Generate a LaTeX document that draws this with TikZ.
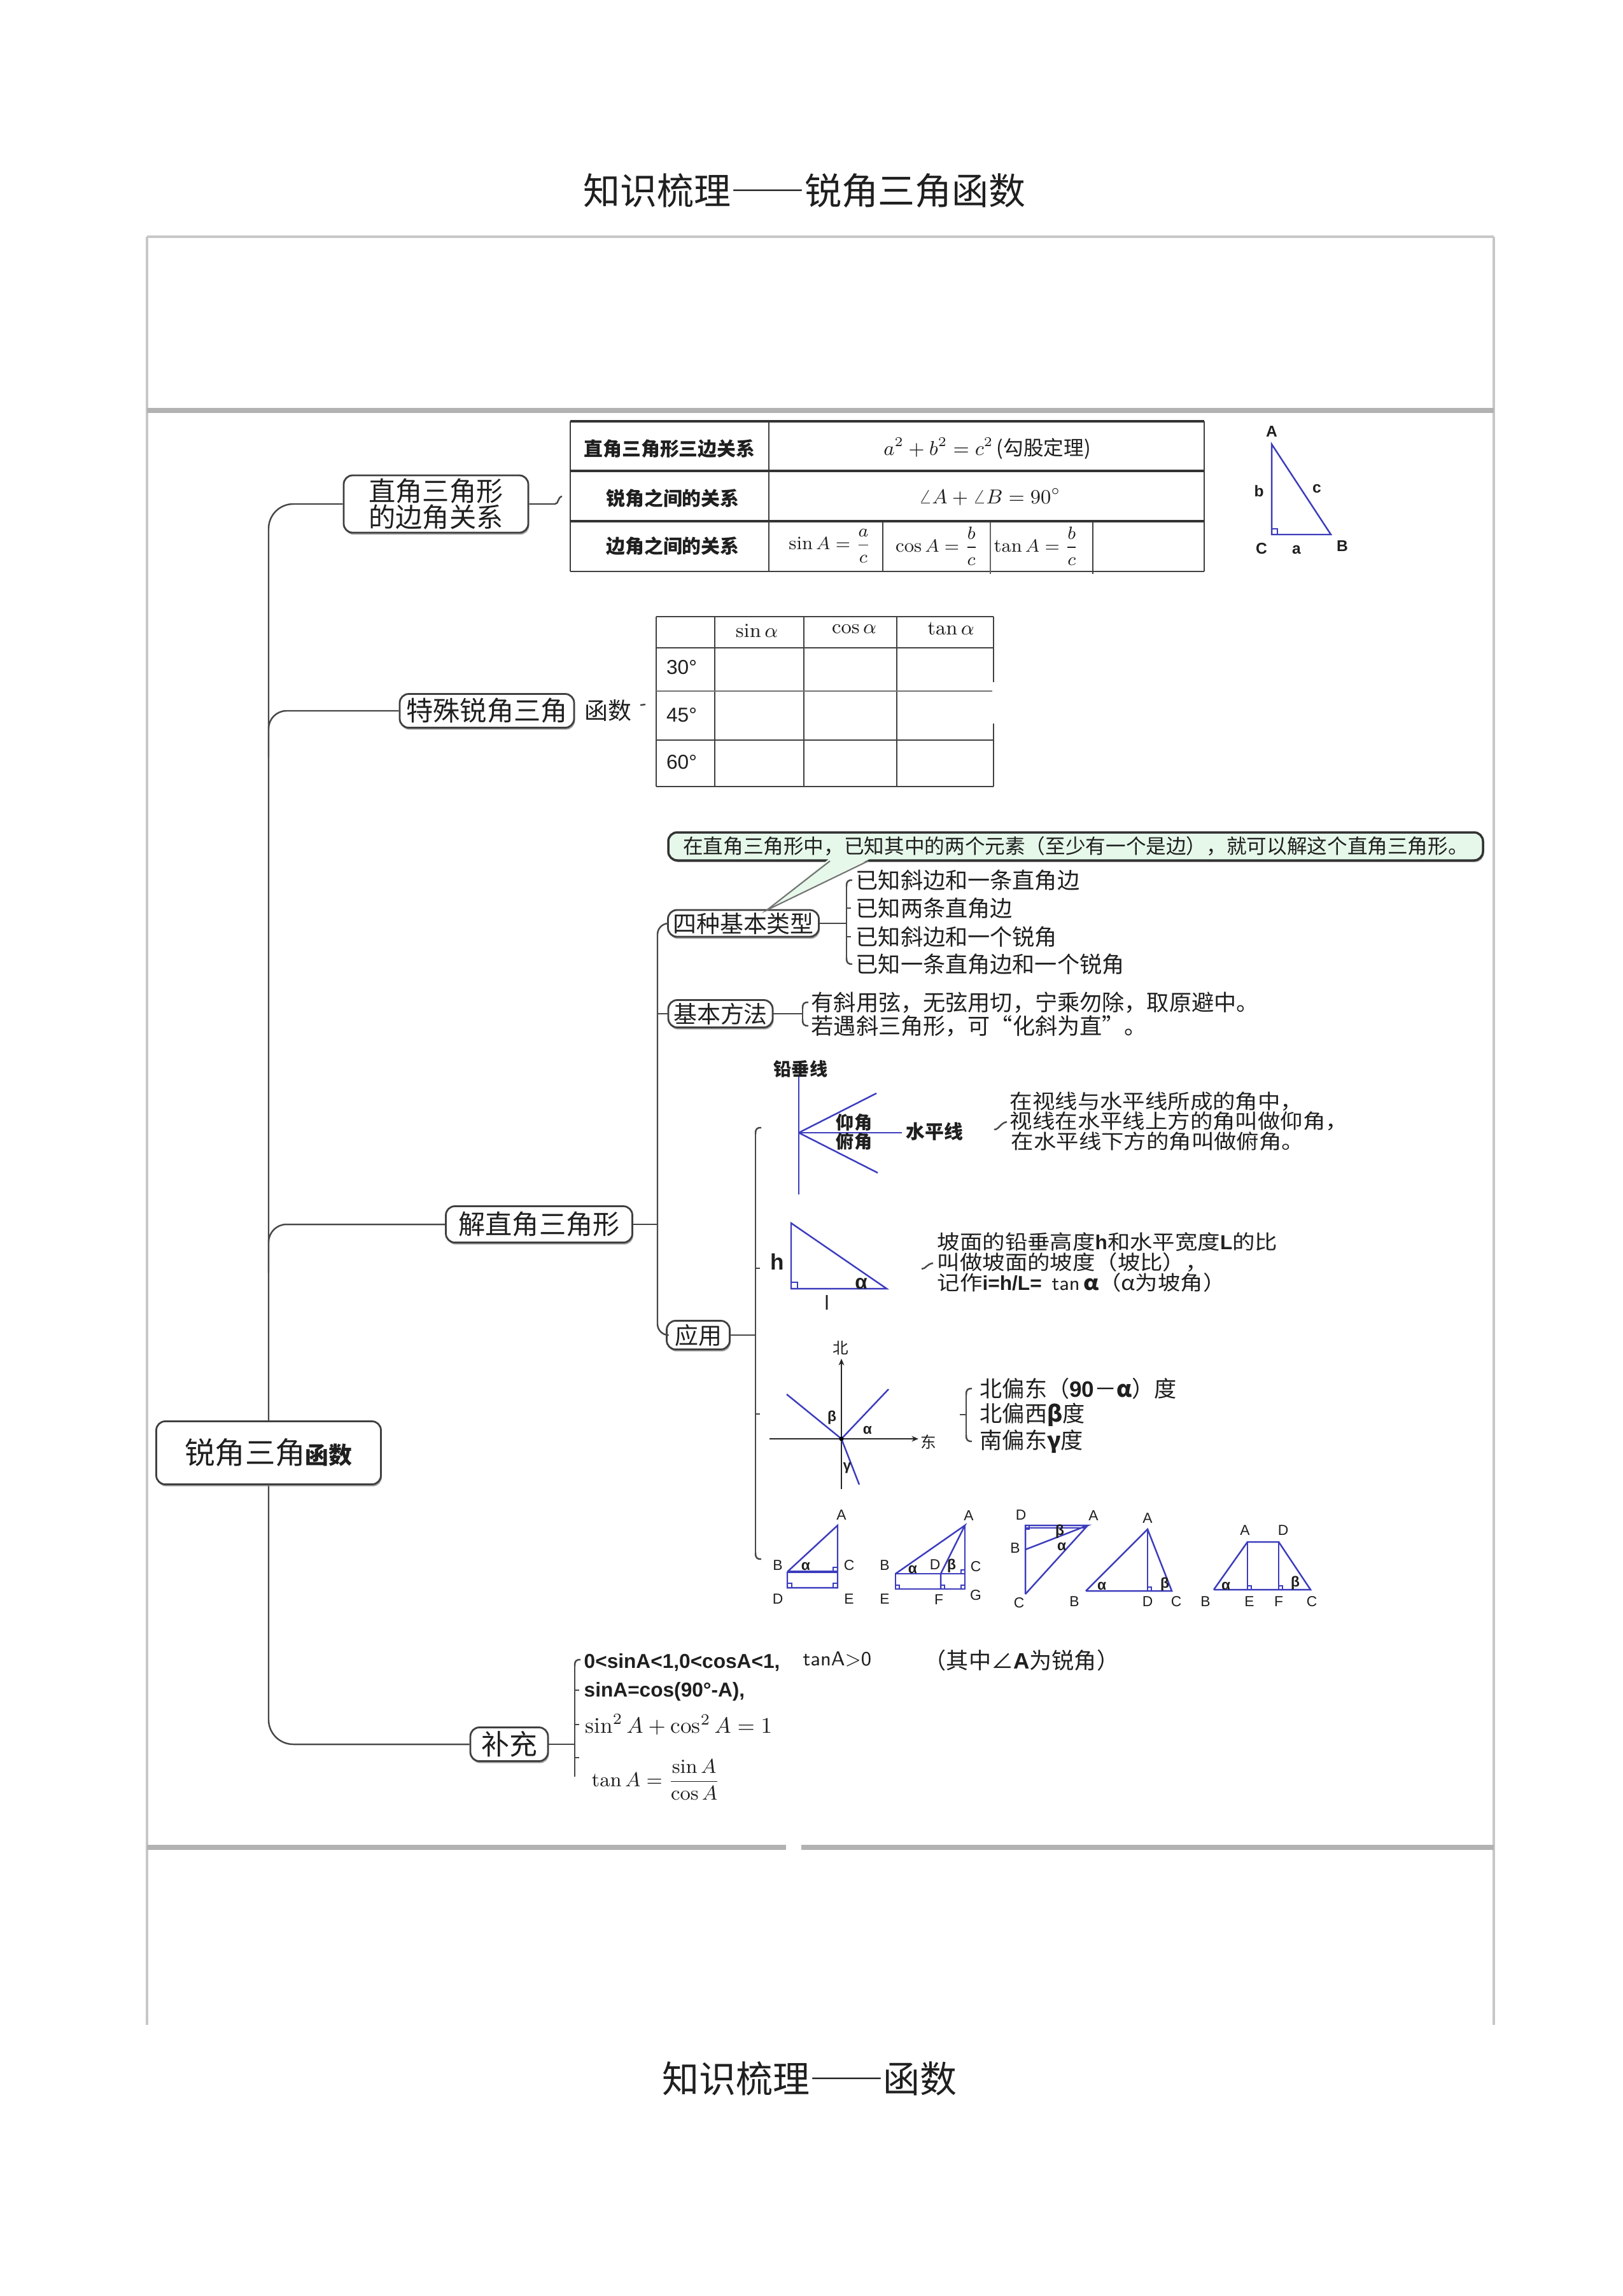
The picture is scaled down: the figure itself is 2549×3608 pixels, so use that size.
\documentclass[tikz,border=0pt]{standalone}
\usepackage{amsmath}
\usepackage{fontspec}
\newfontfamily\cjk{Noto Sans CJK SC}
\newfontfamily\cjkw{Noto Sans CJK SC}[FakeStretch=1.12]
\newfontfamily\lsans{Liberation Sans}
\usetikzlibrary{shadows,arrows.meta}
\definecolor{figblue}{RGB}{60,60,190}
\definecolor{callgreen}{RGB}{230,248,234}
\newcommand\fsz[1]{\fontsize{#1}{#1}\selectfont}
\newcommand\curltop[2]{\draw[conn] (#1,#2+10) .. controls (#1,#2+2) and (#1+2,#2) .. (#1+9,#2);}
\newcommand\curlbot[2]{\draw[conn] (#1,#2-10) .. controls (#1,#2-2) and (#1+2,#2) .. (#1+9,#2);}
\newcommand\mmtick[2]{\draw[conn] (#1,#2) -- (#1+7,#2);}
\newcommand\ramark[3]{\draw[figthin] (#1) ++(#2,0) -- ++(0,#3) -- ++({-1*(#2)},0);}
\newcommand\fwdash{{\addfontfeatures{RawFeature=+fwid}——}}
\tikzset{
 conn/.style={draw=black!72, line width=0.7pt},
 framel/.style={draw=black!22, line width=0.9pt},
 frameh/.style={draw=black!30, line width=2.2pt},
 mm/.style={draw=black!75, line width=0.8pt, rounded corners=4pt, fill=white, inner sep=0pt,
   drop shadow={shadow xshift=0.4pt, shadow yshift=-0.9pt, fill=black!45, opacity=0.8}},
 tthick/.style={draw=black!80, line width=1.1pt},
 tthin/.style={draw=black!75, line width=0.55pt},
 fig/.style={draw=figblue, line width=0.7pt},
 figthin/.style={draw=figblue, line width=0.5pt},
 lbl/.style={font=\lsans\bfseries\fsz{7pt}},
 flbl/.style={font=\lsans\fsz{6.5pt}},
 glbl/.style={font=\cjk\bfseries\fsz{8pt}},
 txt/.style={font=\cjk\fsz{10pt}, anchor=west},
 txtn/.style={font=\cjkw\fsz{9pt}, anchor=west},
 tlab/.style={font=\cjk\bfseries\fsz{8.5pt}},
}
\begin{document}
\begin{tikzpicture}[x=0.1mm,y=-0.1mm, every node/.style={inner sep=0pt, text=black!88}]
\useasboundingbox (0,0) rectangle (2549,3608);
\fill[white] (0,0) rectangle (2549,3608);

% ---------- titles ----------
\node[font=\cjk\fsz{16.5pt}] (title1) at (1264,300) {知识梳理\fwdash 锐角三角函数};
\node[font=\cjk\fsz{16.5pt}] (title2) at (1272,3266) {知识梳理\fwdash 函数};

% ---------- frame ----------
\draw[framel] (231,372) -- (2347,372);
\draw[framel] (231,372) -- (231,3182);
\draw[framel] (2347,372) -- (2347,3182);
\draw[frameh] (231,645) -- (2347,645);
\draw[frameh] (231,2903) -- (1235,2903);
\draw[frameh] (1259,2903) -- (2347,2903);

% ---------- main nodes ----------
\node[mm, minimum width=29mm, minimum height=9mm, align=center,
      font=\cjk\fontsize{12pt}{11.5pt}\selectfont] (n1) at (685,792) {直角三角形\\的边角关系};
\node[mm, minimum width=27.4mm, minimum height=5.3mm, font=\cjk\fsz{12pt}] (n2) at (765,1117) {特殊锐角三角};
\node[font=\cjk\fsz{10.5pt}, anchor=west] (n2b) at (918,1117) {函数};
\node[mm, minimum width=29.3mm, minimum height=5.7mm, font=\cjk\fsz{12pt}] (n3) at (847,1924) {解直角三角形};
\node[mm, minimum width=12.2mm, minimum height=5.3mm, font=\cjk\fsz{12.5pt}] (n4) at (800,2741) {补充};

% trunk and branches
\draw[conn, rounded corners=11pt] (n1.west) -- (422,792) -- (422,2741) -- (n4.west);
\draw[conn, rounded corners=8pt] (n2.west) -- (422,1117) -- (422,1190);
\draw[conn, rounded corners=8pt] (n3.west) -- (422,1924) -- (422,2000);
\node[mm, minimum width=35.3mm, minimum height=9.9mm, font=\cjk] (root) at (422,2283)
  {{\fsz{13.5pt}锐角三角}{\bfseries\fsz{10.5pt}函数}};

% n1 hook to table
\draw[conn] (n1.east) -- (872,792) .. controls (878,792) and (876,781) .. (883,780);
\draw[conn] (1006,1108) -- (1014,1107);

% ---------- table 1 ----------
\draw[tthin] (896,662) -- (896,898);
\draw[tthin] (1892,662) -- (1892,898);
\draw[tthin] (1208,662) -- (1208,898);
\draw[tthin] (896,898) -- (1892,898);
\draw[tthin] (1387,819) -- (1387,898);
\draw[tthin] (1717,819) -- (1717,902);
\draw[draw=black!60, line width=0.4pt] (1556,819) -- (1556,902);
\draw[tthick] (896,662) -- (1892,662);
\draw[tthick] (896,740) -- (1892,740);
\draw[tthick] (896,819) -- (1892,819);
\node[tlab] (t11) at (1052,705) {直角三角形三边关系};
\node[tlab] (t21) at (1057,783) {锐角之间的关系};
\node[tlab] (t31) at (1057,858) {边角之间的关系};
\node[font=\cjk\fsz{9pt}] (t12) at (1551,705) {$a^2+b^2=c^2$\,(勾股定理)};
\node[font=\fsz{9pt}] (t22) at (1555,781) {$\angle A+\angle B=90^\circ$};
\node[font=\fsz{8.5pt}] (t32) at (1304,858) {$\sin A=\dfrac{a}{c}$};
\node[font=\fsz{8.5pt}] (t33) at (1472,858) {$\cos A=\dfrac{b}{c}$};
\node[font=\fsz{8.5pt}] (t34) at (1628,858) {$\tan A=\dfrac{b}{c}$};

% triangle ABC
\coordinate (tA) at (1998,698);
\coordinate (tC) at (1998,840);
\coordinate (tB) at (2091,840);
\draw[fig] (tA) -- (tC) -- (tB) -- cycle;
\ramark{tC}{9}{-9}
\node[lbl] (lA) at (1998,678) {A};
\node[lbl] (lb) at (1978,772) {b};
\node[lbl] (lc) at (2069,768) {c};
\node[lbl] (lC) at (1982,862) {C};
\node[lbl] (la) at (2037,864) {a};
\node[lbl] (lB) at (2109,858) {B};

% ---------- table 2 ----------
\foreach \xx in {1031,1123,1263,1409} {\draw[tthin] (\xx,969) -- (\xx,1236);}
\draw[tthin] (1561,969) -- (1561,1072);
\draw[tthin] (1561,1137) -- (1561,1236);
\foreach \yy in {969,1018,1163,1236} {\draw[tthin] (1031,\yy) -- (1561,\yy);}
\draw[draw=black!55, line width=0.55pt] (1031,1086) -- (1559,1086);
\node[font=\fsz{9pt}] (h1) at (1189,991) {$\sin\alpha$};
\node[font=\fsz{9pt}] (h2) at (1342,989) {$\cos\alpha$};
\node[font=\fsz{9pt}] (h3) at (1494,988) {$\tan\alpha$};
\node[font=\lsans\fsz{9pt}] (r1) at (1071,1049) {30°};
\node[font=\lsans\fsz{9pt}] (r2) at (1071,1124) {45°};
\node[font=\lsans\fsz{9pt}] (r3) at (1071,1198) {60°};

% ---------- solve right triangle subtree ----------
\node[mm, minimum width=23.7mm, minimum height=4.2mm, font=\cjk\fsz{10.5pt}] (n31) at (1168,1451) {四种基本类型};
\node[mm, minimum width=16.4mm, minimum height=4.3mm, font=\cjk\fsz{10.5pt}] (n32) at (1132,1593) {基本方法};
\node[mm, minimum width=9.9mm, minimum height=4.5mm, font=\cjk\fsz{10.5pt}] (n33) at (1097,2098) {应用};
\coordinate (j3) at (1033,1924);
\draw[conn, rounded corners=5pt] (n31.west) -- (1033,1451) -- (1033,2098) -- (n33.west);
\draw[conn] (1033,1593) -- (n32.west);
\draw[conn] (n3.east) -- (j3);

% callout
\node[draw=black!80, line width=1pt, fill=callgreen, rounded corners=4pt,
      minimum width=128mm, minimum height=4.4mm, font=\cjk\fsz{9pt},
      drop shadow={shadow xshift=0.4pt, shadow yshift=-0.8pt, fill=black!45, opacity=0.8}]
      (call) at (1690,1330) {在直角三角形中，已知其中的两个元素（至少有一个是边），就可以解这个直角三角形。};
\coordinate (tip) at (1205,1430);
\fill[callgreen] (1302,1350) -- (tip) -- (1366,1350) -- cycle;
\draw[draw=black!55, line width=0.6pt] (1304,1353) -- (tip) -- (1364,1353);

% four types bracket
\draw[conn] (n31.east) -- (1330,1451);
\draw[conn] (1330,1393) -- (1330,1505);
\curltop{1330}{1383}
\curlbot{1330}{1515}
\mmtick{1330}{1427}
\mmtick{1330}{1472}
\node[txt] (k1) at (1344,1383) {已知斜边和一条直角边};
\node[txt] (k2) at (1344,1427) {已知两条直角边};
\node[txt] (k3) at (1344,1472) {已知斜边和一个锐角};
\node[txt] (k4) at (1344,1515) {已知一条直角边和一个锐角};

% basic method bracket
\draw[conn] (n32.east) -- (1261,1593);
\draw[conn] (1261,1585) -- (1261,1602);
\curltop{1261}{1575}
\curlbot{1261}{1612}
\node[txt] (m1) at (1274,1575) {有斜用弦，无弦用切，宁乘勿除，取原避中。};
\node[txt] (m2) at (1274,1612) {若遇斜三角形，可“化斜为直”。};

% application bracket
\draw[conn] (n33.east) -- (1187,2098);
\draw[conn] (1187,1782) -- (1187,2440);
\curltop{1187}{1772}
\curlbot{1187}{2450}
\mmtick{1187}{1993}
\mmtick{1187}{2222}

% elevation figure
\coordinate (eo) at (1255,1780);
\draw[fig] (1255,1692) -- (1255,1877);
\draw[fig] (eo) -- (1377,1718);
\draw[fig] (eo) -- (1379,1843);
\draw[fig] (eo) -- (1417,1780);
\node[glbl] (e1) at (1258,1680) {铅垂线};
\node[glbl] (e2) at (1342,1764) {仰角};
\node[glbl] (e3) at (1342,1794) {俯角};
\node[glbl, font=\cjk\bfseries\fsz{8.5pt}, anchor=west] (e4) at (1423,1778) {水平线};
\draw[conn] (1562,1775) .. controls (1570,1775) and (1572,1764) .. (1582,1763);
\node[txtn] (v1) at (1586,1731) {在视线与水平线所成的角中，};
\node[txtn] (v2) at (1586,1762) {视线在水平线上方的角叫做仰角，};
\node[txtn] (v3) at (1588,1793) {在水平线下方的角叫做俯角。};

% slope figure
\coordinate (sA) at (1243,1922);
\coordinate (sC) at (1243,2025);
\coordinate (sB) at (1393,2025);
\draw[fig] (sA) -- (sC) -- (sB) -- cycle;
\ramark{sC}{10}{-10}
\node[font=\lsans\bfseries\fsz{10pt}] (sh) at (1221,1983) {h};
\node[font=\lsans\bfseries\fsz{9pt}] (sa) at (1353,2017) {α};
\node[font=\lsans\fsz{9pt}] (sl) at (1299,2047) {l};
\draw[conn] (1448,1994) .. controls (1455,1994) and (1456,1986) .. (1466,1985);
\node[txtn] (p1) at (1472,1952) {坡面的铅垂高度{\lsans\bfseries h}和水平宽度{\lsans\bfseries L}的比};
\node[txtn] (p2) at (1472,1984) {叫做坡面的坡度（坡比），};
\node[txtn] (p3) at (1472,2015) {记作{\lsans\bfseries i=h/L=}\ \ {\sffamily tan}\,{\bfseries α}（α为坡角）};

% compass figure
\coordinate (co) at (1322,2261);
\draw[draw=black!85, line width=0.6pt, -{Stealth[length=3pt,width=2.5pt]}] (1322,2340) -- (1322,2135);
\draw[draw=black!85, line width=0.8pt, -{Stealth[length=3pt,width=2.5pt]}] (1209,2261) -- (1443,2261);
\draw[fig] (co) -- (1396,2183);
\draw[fig] (co) -- (1236,2191);
\draw[fig] (co) -- (1350,2333);
\fill[black] (co) circle (3.5);
\node[font=\cjk\fsz{7pt}] (cn) at (1321,2118) {北};
\node[font=\cjk\fsz{7pt}] (ce) at (1459,2266) {东};
\node[font=\lsans\bfseries\fsz{6.5pt}] (cb) at (1307,2228) {β};
\node[font=\lsans\bfseries\fsz{6.5pt}] (ca) at (1363,2247) {α};
\node[font=\lsans\bfseries\fsz{6.5pt}] (cg) at (1331,2307) {γ};
\draw[conn] (1518,2192) -- (1518,2255);
\curltop{1518}{2182}
\curlbot{1518}{2265}
\draw[conn] (1508,2223) -- (1518,2223);
\node[txt] (d1) at (1539,2182) {北偏东（{\lsans\bfseries 90}－{\bfseries α}）度};
\node[txt] (d2) at (1539,2223) {北偏西{\bfseries β}度};
\node[txt] (d3) at (1539,2265) {南偏东{\bfseries γ}度};

% figure row
% fig 1
\coordinate (fa1) at (1316,2397);
\coordinate (fb1) at (1237,2470);
\coordinate (fc1) at (1316,2470);
\coordinate (fd1) at (1237,2495);
\coordinate (fe1) at (1316,2495);
\draw[fig] (fb1) -- (fa1) -- (fe1) -- (fd1) -- (fb1);
\draw[fig, line width=1.3pt] (fb1) -- (fc1);
\ramark{fc1}{-7}{-7}
\ramark{fd1}{7}{-7}
\ramark{fe1}{-7}{-7}
\node[flbl] (la1) at (1322,2381) {A};
\node[flbl] (lb1) at (1222,2460) {B};
\node[flbl] (lc1) at (1334,2460) {C};
\node[flbl] (ld1) at (1222,2513) {D};
\node[flbl] (le1) at (1334,2513) {E};
\node[font=\lsans\bfseries\fsz{6.5pt}] (al1) at (1266,2461) {α};
% fig 2
\coordinate (fa2) at (1516,2397);
\coordinate (fb2) at (1407,2473);
\coordinate (fd2) at (1478,2473);
\coordinate (fc2) at (1516,2473);
\coordinate (fe2) at (1407,2497);
\coordinate (ff2) at (1478,2497);
\coordinate (fg2) at (1516,2497);
\draw[fig] (fb2) -- (fa2) -- (fd2) -- (ff2);
\draw[fig] (fa2) -- (fg2) -- (fe2) -- (fb2) -- (fc2);
\ramark{fc2}{-6}{-6}
\ramark{fe2}{6}{-6}
\ramark{ff2}{6}{-6}
\ramark{fg2}{-6}{-6}
\node[flbl] (la2) at (1522,2382) {A};
\node[flbl] (lb2) at (1390,2460) {B};
\node[flbl] (ld2) at (1469,2459) {D};
\node[flbl] (lc2) at (1533,2462) {C};
\node[flbl] (le2) at (1390,2513) {E};
\node[flbl] (lf2) at (1475,2514) {F};
\node[flbl] (lg2) at (1533,2507) {G};
\node[font=\lsans\bfseries\fsz{6.5pt}] (al2) at (1434,2466) {α};
\node[font=\lsans\bfseries\fsz{6.5pt}] (be2) at (1495,2461) {β};
% fig 3
\coordinate (fd3) at (1611,2397);
\coordinate (fa3) at (1709,2397);
\coordinate (fb3) at (1611,2435);
\coordinate (fc3) at (1611,2505);
\draw[fig] (fc3) -- (fd3) -- (fa3) -- (fb3);
\draw[fig] (fa3) -- (fc3);
\draw[figthin] (1611,2401) -- (1705,2401);
\ramark{fd3}{6}{6}
\node[flbl] (ld3) at (1604,2381) {D};
\node[flbl] (la3) at (1718,2382) {A};
\node[flbl] (lb3) at (1595,2433) {B};
\node[flbl] (lc3) at (1601,2519) {C};
\node[font=\lsans\bfseries\fsz{6.5pt}] (be3) at (1665,2407) {β};
\node[font=\lsans\bfseries\fsz{6.5pt}] (al3) at (1668,2430) {α};
% fig 4
\coordinate (fa4) at (1803,2403);
\coordinate (fb4) at (1706,2500);
\coordinate (fd4) at (1803,2500);
\coordinate (fc4) at (1841,2500);
\draw[fig] (fb4) -- (fa4) -- (fc4) -- (fb4);
\draw[fig] (fa4) -- (fd4);
\ramark{fd4}{6}{-6}
\node[flbl] (la4) at (1803,2386) {A};
\node[flbl] (lb4) at (1688,2517) {B};
\node[flbl] (ld4) at (1803,2517) {D};
\node[flbl] (lc4) at (1848,2517) {C};
\node[font=\lsans\bfseries\fsz{6.5pt}] (al4) at (1731,2492) {α};
\node[font=\lsans\bfseries\fsz{6.5pt}] (be4) at (1830,2490) {β};
% fig 5
\coordinate (fa5) at (1960,2423);
\coordinate (fd5) at (2009,2423);
\coordinate (fb5) at (1907,2498);
\coordinate (fe5) at (1960,2498);
\coordinate (ff5) at (2009,2498);
\coordinate (fc5) at (2059,2498);
\draw[fig] (fb5) -- (fa5) -- (fd5) -- (fc5) -- (fb5);
\draw[fig] (fa5) -- (fe5);
\draw[fig] (fd5) -- (ff5);
\ramark{fe5}{6}{-6}
\ramark{ff5}{6}{-6}
\node[flbl] (la5) at (1956,2405) {A};
\node[flbl] (ld5) at (2016,2405) {D};
\node[flbl] (lb5) at (1894,2517) {B};
\node[flbl] (le5) at (1963,2517) {E};
\node[flbl] (lf5) at (2009,2517) {F};
\node[flbl] (lc5) at (2061,2517) {C};
\node[font=\lsans\bfseries\fsz{6.5pt}] (al5) at (1926,2492) {α};
\node[font=\lsans\bfseries\fsz{6.5pt}] (be5) at (2035,2488) {β};

% ---------- supplement ----------
\draw[conn] (n4.east) -- (903,2741);
\draw[conn] (903,2618) -- (903,2792);
\curltop{903}{2608}
\mmtick{903}{2656}
\mmtick{903}{2710}
\mmtick{903}{2762}
\node[font=\lsans\bfseries\fsz{9pt}, anchor=west] (s1) at (917,2612) {0<sinA<1,0<cosA<1,};
\node[font=\sffamily\fsz{9pt}, anchor=west] (s1b) at (1261,2607) {tanA>0};
\node[font=\cjk\fsz{10pt}, anchor=west] (s1c) at (1451,2609) {（其中∠{\lsans\bfseries A}为锐角）};
\node[font=\lsans\bfseries\fsz{9pt}, anchor=west] (s2) at (917,2658) {sinA=cos(90°-A),};
\node[font=\fsz{10pt}, anchor=west] (s3) at (919,2710) {$\sin^2 A+\cos^2 A=1$};
\node[font=\fsz{9pt}, anchor=west] (s4) at (929,2797) {$\tan A=\dfrac{\sin A}{\cos A}$};
\end{tikzpicture}
\end{document}
